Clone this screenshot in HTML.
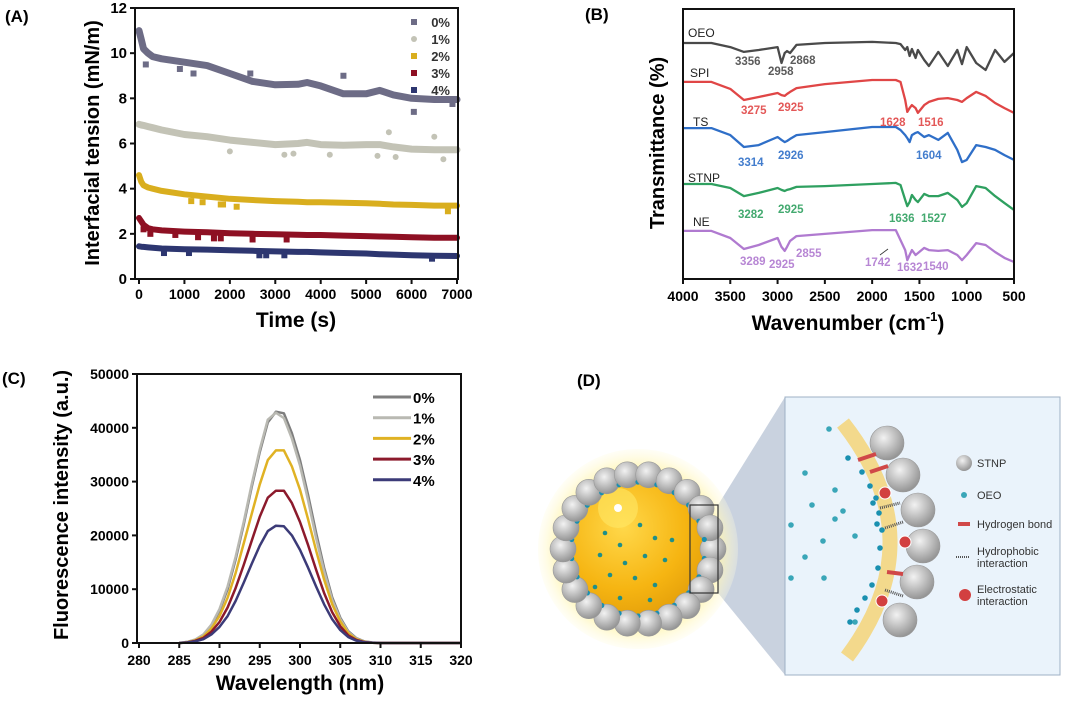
<!DOCTYPE html>
<html><head><meta charset="utf-8"><style>
body{margin:0;background:#fff;width:1080px;height:698px;overflow:hidden}
svg{font-family:"Liberation Sans",Arial,sans-serif;font-weight:bold}
</style></head><body>
<svg id="fig" width="1080" height="698" viewBox="0 0 1080 698">
<defs>
<radialGradient id="core" cx="0.4" cy="0.35" r="0.7"><stop offset="0" stop-color="#ffd84a"/><stop offset="0.6" stop-color="#f6b512"/><stop offset="1" stop-color="#e09a08"/></radialGradient>
<radialGradient id="glow" cx="0.5" cy="0.5" r="0.5"><stop offset="0.75" stop-color="#fff3a0"/><stop offset="1" stop-color="#fffbe0" stop-opacity="0.3"/></radialGradient>
<radialGradient id="ball" cx="0.4" cy="0.35" r="0.7"><stop offset="0" stop-color="#f2f2f2"/><stop offset="1" stop-color="#8e8e8e"/></radialGradient>
</defs>
<g id="panelA"></g>
<g id="panelB"></g>
<g id="panelC"></g>
<g id="panelD"></g>
</svg>
<script>
// ---------- Panel A data ----------
const aTimes=[0,50,100,200,300,500,1000,1500,2000,2500,3000,3500,3700,4000,4500,5000,5300,5600,6000,6500,7000];
const aSeries=['0%','1%','2%','3%','4%'];
const aVal0=[11.0,10.6,10.2,10.0,9.85,9.75,9.6,9.45,9.1,8.75,8.6,8.62,8.7,8.55,8.2,8.2,8.35,8.15,8.0,7.95,7.95];
const aVal1=[6.85,6.82,6.8,6.75,6.7,6.6,6.4,6.3,6.15,6.05,5.95,6.0,6.05,5.95,5.92,5.95,5.95,5.85,5.75,5.72,5.72];
const aVal2=[4.6,4.3,4.15,4.05,4.0,3.9,3.75,3.65,3.55,3.5,3.45,3.42,3.4,3.4,3.38,3.35,3.33,3.3,3.28,3.25,3.25];
const aVal3=[2.7,2.55,2.4,2.25,2.2,2.15,2.1,2.07,2.03,2.0,1.98,1.96,1.95,1.95,1.92,1.9,1.88,1.87,1.85,1.83,1.83];
const aVal4=[1.45,1.43,1.42,1.4,1.38,1.35,1.32,1.3,1.27,1.25,1.22,1.2,1.2,1.18,1.15,1.13,1.1,1.08,1.05,1.03,1.02];
const aOut0=[[150,9.5],[900,9.3],[1200,9.1],[2450,9.1],[4500,9.0],[6050,7.4],[6900,7.75]];
const aOut1=[[2000,5.65],[3200,5.5],[3400,5.55],[4200,5.5],[5250,5.45],[5500,6.5],[5650,5.4],[6500,6.3],[6700,5.3]];
const aOut2=[[1150,3.45],[1400,3.4],[1800,3.3],[1850,3.3],[2150,3.2],[6800,3.0]];
const aOut3=[[100,2.2],[250,2.0],[800,1.95],[1300,1.85],[1650,1.8],[1800,1.8],[2500,1.75],[3250,1.75]];
const aOut4=[[550,1.15],[1100,1.15],[2650,1.05],[2800,1.05],[3200,1.05],[6450,0.9]];
const aXTicks=[0,1000,2000,3000,4000,5000,6000,7000];
const aYTicks=[0,2,4,6,8,10,12];
// ---------- Panel B data ----------
const bWn=[4000,3700,3500,3356,3200,3000,2958,2925,2900,2868,2800,2500,2000,1750,1700,1650,1628,1604,1580,1540,1516,1450,1400,1300,1200,1100,1050,1000,900,800,700,600,500];
const bNames=['OEO','SPI','TS','STNP','NE'];
const bOEO=[87.4,87.4,85.9,84.1,84.8,85.9,80.0,83.7,84.4,83.7,86.7,87.4,87.8,87.4,87.0,84.8,85.9,82.6,85.2,81.9,84.8,81.1,78.9,84.1,78.9,84.8,79.6,85.9,80.0,77.4,84.8,80.4,83.7];
const bSPI=[73.0,73.0,70.4,66.3,67.4,68.9,68.1,67.8,68.5,69.3,70.7,72.2,73.7,73.7,73.0,66.3,61.9,63.3,64.4,63.3,61.5,64.4,65.6,66.7,67.0,66.3,65.6,67.0,69.3,67.8,65.2,63.3,61.5];
const bTS=[55.9,55.9,53.3,48.9,49.6,52.6,51.5,50.7,51.1,51.9,53.3,54.4,56.3,56.3,55.2,53.3,52.2,50.7,53.3,54.1,54.4,52.6,53.3,51.5,54.1,47.8,43.3,44.1,49.6,48.9,47.8,45.9,44.1];
const bSTNP=[35.2,35.2,33.7,30.7,31.9,33.7,33.0,32.6,33.0,33.3,34.1,34.4,35.2,35.6,34.8,29.3,27.0,28.5,31.1,29.3,28.5,31.5,30.7,30.7,31.9,29.3,26.7,28.1,34.4,33.7,30.7,28.1,25.6];
const bNE=[17.8,17.8,15.2,11.1,12.6,15.2,11.9,10.4,11.9,14.1,15.9,16.7,18.1,18.1,14.4,10.7,7.0,8.9,10.7,8.9,9.6,11.5,10.7,10.4,10.7,8.9,7.0,8.9,13.3,12.6,10.0,7.8,6.3];
const bXTicks=[4000,3500,3000,2500,2000,1500,1000,500];
// ---------- Panel C data ----------
const cWl=[285,286,287,288,289,290,291,292,293,294,295,296,297,298,299,300,301,302,303,304,305,306,307,308,309,310];
const cSeries=['0%','1%','2%','3%','4%'];
const cVal0=[0,200,600,1500,3200,6000,10000,15500,22000,29000,35500,41000,43000,42700,39000,34000,27500,20500,14000,8500,4700,2200,900,300,100,0];
const cVal1=[0,200,650,1600,3400,6300,10500,16000,22500,29500,36000,41500,42800,41800,38000,33000,26500,19500,13300,8000,4400,2000,800,250,80,0];
const cVal2=[0,150,500,1200,2700,5000,8400,13000,18500,24000,29500,34000,35800,35800,32800,28500,23000,17200,11800,7200,4000,1800,700,200,60,0];
const cVal3=[0,120,400,950,2100,3900,6600,10200,14500,19000,23500,27000,28300,28300,26000,22500,18200,13600,9300,5700,3100,1400,550,160,50,0];
const cVal4=[0,90,300,700,1600,3000,5000,7800,11200,14700,18100,20800,21800,21700,20000,17300,14000,10500,7200,4400,2400,1100,420,120,40,0];
const cXTicks=[280,285,290,295,300,305,310,315,320];
const cYTicks=[0,10000,20000,30000,40000,50000];

const NS='http://www.w3.org/2000/svg';
function el(parent,tag,attrs,text){const e=document.createElementNS(NS,tag);for(const k in attrs)e.setAttribute(k,attrs[k]);if(text!==undefined)e.textContent=text;parent.appendChild(e);return e;}
function pathFrom(xs,ys,fx,fy){return xs.map((x,i)=>(i?'L':'M')+fx(x).toFixed(1)+','+fy(ys[i]).toFixed(1)).join(' ');}

// ================= Panel A =================
(function(){
const g=document.getElementById('panelA');
const X0=139,X1=457,Y0=279,Y1=8;
const fx=t=>X0+(t/7000)*(X1-X0);
const fy=v=>Y0-(v/12)*(Y0-Y1);
const cols=['#6d6c86','#c3c3b6','#d9ae1e','#8e1023','#2d3670'];
const vals=[aVal0,aVal1,aVal2,aVal3,aVal4];
const outs=[aOut0,aOut1,aOut2,aOut3,aOut4];
const lbl=el(g,'text',{x:5,y:22,'font-size':17},'(A)');


vals.forEach((v,i)=>{
  const p=el(g,'path',{d:pathFrom(aTimes,v,fx,fy),fill:'none',stroke:cols[i],'stroke-width':i<2?7:6,'stroke-linejoin':'round','stroke-linecap':'round'});
  
  
  outs[i].forEach(o=>{
    const m=el(g,'rect',{x:fx(o[0])-3,y:fy(o[1])-3,width:6,height:6,fill:cols[i],rx:i==1?3:0});
    
    
  });
});
const fr=el(g,'rect',{x:135,y:Y1,width:X1-135+1,height:Y0-Y1,fill:'none',stroke:'#111','stroke-width':2});


aYTicks.forEach(t=>{
  el(g,'line',{x1:130,x2:135,y1:fy(t),y2:fy(t),stroke:'#111','stroke-width':2});
  const tx=el(g,'text',{x:127,y:fy(t)+5,'font-size':15,'text-anchor':'end'},t);
  
  
});
aXTicks.forEach(t=>{
  el(g,'line',{x1:fx(t),x2:fx(t),y1:Y0,y2:Y0+5,stroke:'#111','stroke-width':2});
  const tx=el(g,'text',{x:fx(t),y:Y0+20,'font-size':14,'text-anchor':'middle'},t);
  
  
});
const xt=el(g,'text',{x:296,y:327,'font-size':21,'text-anchor':'middle'},'Time (s)');


const yt=el(g,'text',{x:0,y:0,'font-size':20,'text-anchor':'middle',transform:'translate(99,143) rotate(-90)'},'Interfacial tension (mN/m)');


aSeries.forEach((s,i)=>{
  const y=22+i*17;
  const mk=el(g,'rect',{x:411,y:y-3,width:6,height:6,fill:cols[i],rx:i==1?3:0});
  
  
  const t=el(g,'text',{x:450,y:y+5,'font-size':13,'text-anchor':'end',fill:'#333'},s);
  
  
});
})();

// ================= Panel B =================
(function(){
const g=document.getElementById('panelB');
const X0=683,X1=1014,Y0=279,Y1=9;
const fx=w=>X0+((4000-w)/3500)*(X1-X0);
const fy=v=>Y0-(v/100)*(Y0-Y1);
const cols=['#4a4a4a','#e04646','#2f6fc8','#2fa060','#b07ad0'];
const vals=[bOEO,bSPI,bTS,bSTNP,bNE];
const lbl=el(g,'text',{x:585,y:20,'font-size':17},'(B)');


vals.forEach((v,i)=>{
  const p=el(g,'path',{d:pathFrom(bWn,v,fx,fy),fill:'none',stroke:cols[i],'stroke-width':2.3,'stroke-linejoin':'round'});
  
  
  const n=el(g,'text',{x:[688,690,693,688,693][i],y:[37,77,126,182,226][i],'font-size':12,'font-weight':'normal',fill:'#222'},bNames[i]);
  
  
});
const peaks=[
 ['3356',735,65,0],['2958',768,75,0],['2868',790,64,0],
 ['3275',741,114,1],['2925',778,111,1],['1628',880,126,1],['1516',918,126,1],
 ['3314',738,166,2],['2926',778,159,2],['1604',916,159,2],
 ['3282',738,218,3],['2925',778,213,3],['1636',889,222,3],['1527',921,222,3],
 ['3289',740,265,4],['2925',769,268,4],['2855',796,257,4],['1742',865,266,4],['1632',897,271,4],['1540',923,270,4]];
peaks.forEach(p=>{
  const t=el(g,'text',{x:p[1],y:p[2],'font-size':11.5,fill:cols[p[3]],opacity:0.9},p[0]);
  
  
});
el(g,'line',{x1:880,y1:255,x2:888,y2:249,stroke:'#333','stroke-width':0.8});
const fr=el(g,'rect',{x:X0,y:Y1,width:X1-X0,height:Y0-Y1,fill:'none',stroke:'#111','stroke-width':2});


bXTicks.forEach(t=>{
  el(g,'line',{x1:fx(t),x2:fx(t),y1:Y0,y2:Y0+5,stroke:'#111','stroke-width':2});
  const tx=el(g,'text',{x:fx(t),y:Y0+22,'font-size':14,'text-anchor':'middle'},t);
  
  
});
const xt=el(g,'text',{x:848,y:330,'font-size':21,'text-anchor':'middle'});


xt.innerHTML='Wavenumber (cm<tspan font-size="13" dy="-9">-1</tspan><tspan dy="9">)</tspan>';
const yt=el(g,'text',{x:0,y:0,'font-size':20,'text-anchor':'middle',transform:'translate(664,143) rotate(-90)'},'Transmittance (%)');


})();

// ================= Panel C =================
(function(){
const g=document.getElementById('panelC');
const X0=139,X1=461,Y0=643,Y1=374;
const fx=w=>X0+((w-280)/40)*(X1-X0);
const fy=v=>Y0-(v/50000)*(Y0-Y1);
const cols=['#7e7e7e','#b9b9b2','#e0b224','#8c1a2c','#3c3b78'];
const vals=[cVal0,cVal1,cVal2,cVal3,cVal4];
const yt=el(g,'text',{x:0,y:0,'font-size':20,'text-anchor':'middle',transform:'translate(68,505) rotate(-90)'},'Fluorescence intensity (a.u.)');


el(g,'rect',{x:0,y:370,width:30,height:20,fill:'#fff'});
const lbl=el(g,'text',{x:2,y:384,'font-size':17},'(C)');


vals.forEach((v,i)=>{
  const p=el(g,'path',{d:pathFrom(cWl,v,fx,fy)+' L'+fx(320)+','+fy(0),fill:'none',stroke:cols[i],'stroke-width':2.5,'stroke-linejoin':'round'});
  
  
});
const fr=el(g,'rect',{x:137,y:Y1,width:X1-137,height:Y0-Y1,fill:'none',stroke:'#111','stroke-width':2});


cYTicks.forEach(t=>{
  el(g,'line',{x1:132,x2:137,y1:fy(t),y2:fy(t),stroke:'#111','stroke-width':2});
  const tx=el(g,'text',{x:129,y:fy(t)+5,'font-size':14,'text-anchor':'end'},t);
  
  
});
cXTicks.forEach(t=>{
  el(g,'line',{x1:fx(t),x2:fx(t),y1:Y0,y2:Y0+5,stroke:'#111','stroke-width':2});
  const tx=el(g,'text',{x:fx(t),y:Y0+22,'font-size':14,'text-anchor':'middle'},t);
  
  
});
const xt=el(g,'text',{x:300,y:690,'font-size':21,'text-anchor':'middle'},'Wavelength (nm)');


cSeries.forEach((s,i)=>{
  const y=397+i*20.7;
  const ln=el(g,'line',{x1:373,x2:411,y1:y,y2:y,stroke:cols[i],'stroke-width':3});
  
  
  const t=el(g,'text',{x:413,y:y+6,'font-size':15},s);
  
  
});
})();

// ================= Panel D =================
(function(){
const g=document.getElementById('panelD');
const lbl=el(g,'text',{x:577,y:386,'font-size':17},'(D)');


const CX=638,CY=549;
const tz=el(g,'polygon',{points:'718,505 785,397 785,675 718,593',fill:'#c9d2df'});


const gl=el(g,'circle',{cx:CX,cy:CY,r:100,fill:'url(#glow)'});


const core=el(g,'circle',{cx:CX,cy:CY,r:74,fill:'url(#core)'});


el(g,'circle',{cx:618,cy:508,r:20,fill:'#ffe866',opacity:0.6});
el(g,'circle',{cx:618,cy:508,r:4,fill:'#fff'});
for(let k=0;k<22;k++){
  const a=k/22*Math.PI*2;
  const b=el(g,'circle',{cx:CX+75*Math.cos(a),cy:CY+75*Math.sin(a),r:13,fill:'url(#ball)',stroke:'#999','stroke-width':0.6});
  
  
  const a2=a+Math.PI/22;
  el(g,'circle',{cx:CX+67*Math.cos(a2),cy:CY+67*Math.sin(a2),r:2.6,fill:'#1a8fb0'});
}
[[605,533],[620,545],[640,525],[655,538],[600,555],[625,563],[645,556],[665,560],[610,575],[635,578],[655,585],[672,540],[620,598],[650,600],[595,587]].forEach(p=>{
  el(g,'circle',{cx:p[0],cy:p[1],r:2.3,fill:'#1f8f88'});
});
const sr=el(g,'rect',{x:690,y:505,width:28,height:88,fill:'none',stroke:'#333','stroke-width':1.2});


const ib=el(g,'rect',{x:785,y:397,width:275,height:278,fill:'#eaf3fb',stroke:'#9fb0c4','stroke-width':1});


const band=el(g,'path',{d:'M843,423 Q935,540 847,657',fill:'none',stroke:'#f3d98c','stroke-width':15});


[[887,443],[903,475],[918,510],[923,546],[917,582],[900,620]].forEach(p=>{
  const b=el(g,'circle',{cx:p[0],cy:p[1],r:17,fill:'url(#ball)',stroke:'#999','stroke-width':0.6});
  
  
});
[[885,493],[905,542],[882,601]].forEach(p=>{el(g,'circle',{cx:p[0],cy:p[1],r:6,fill:'#d24040',stroke:'#fff','stroke-width':1});});
[[858,460,876,454],[870,472,888,466],[887,572,903,574]].forEach(p=>{el(g,'line',{x1:p[0],y1:p[1],x2:p[2],y2:p[3],stroke:'#d04848','stroke-width':4});});
[[880,508,900,503],[885,528,903,522],[885,590,903,596]].forEach(p=>{el(g,'line',{x1:p[0],y1:p[1],x2:p[2],y2:p[3],stroke:'#555','stroke-width':3,'stroke-dasharray':'1,1'});});
[[848,458],[862,472],[870,486],[876,498],[879,513],[882,530],[880,548],[878,568],[872,585],[865,598],[857,610],[850,622],[873,503],[877,524]].forEach(p=>{el(g,'circle',{cx:p[0],cy:p[1],r:2.8,fill:'#1a90b0'});});
[[829,429],[805,473],[812,505],[791,525],[835,519],[823,541],[855,536],[805,557],[791,578],[824,578],[855,622],[835,490],[843,511]].forEach(p=>{el(g,'circle',{cx:p[0],cy:p[1],r:2.8,fill:'#3aa6b8'});});
const leg=[['STNP',463],['OEO',495],['Hydrogen bond',524],['Hydrophobic',551],['interaction',563],['Electrostatic',589],['interaction',601]];
el(g,'circle',{cx:964,cy:463,r:8,fill:'url(#ball)'});
el(g,'circle',{cx:964,cy:495,r:3,fill:'#3aa6b8'});
el(g,'line',{x1:958,x2:970,y1:524,y2:524,stroke:'#d04848','stroke-width':4});
el(g,'line',{x1:956,x2:969,y1:557,y2:557,stroke:'#555','stroke-width':2,'stroke-dasharray':'1,1'});
el(g,'circle',{cx:965,cy:595,r:6,fill:'#d24040'});
leg.forEach(l=>{
  const t=el(g,'text',{x:977,y:l[1]+4,'font-size':11,'font-weight':'normal',fill:'#333'},l[0]);
  
  
});
})();
</script>
</body></html>
